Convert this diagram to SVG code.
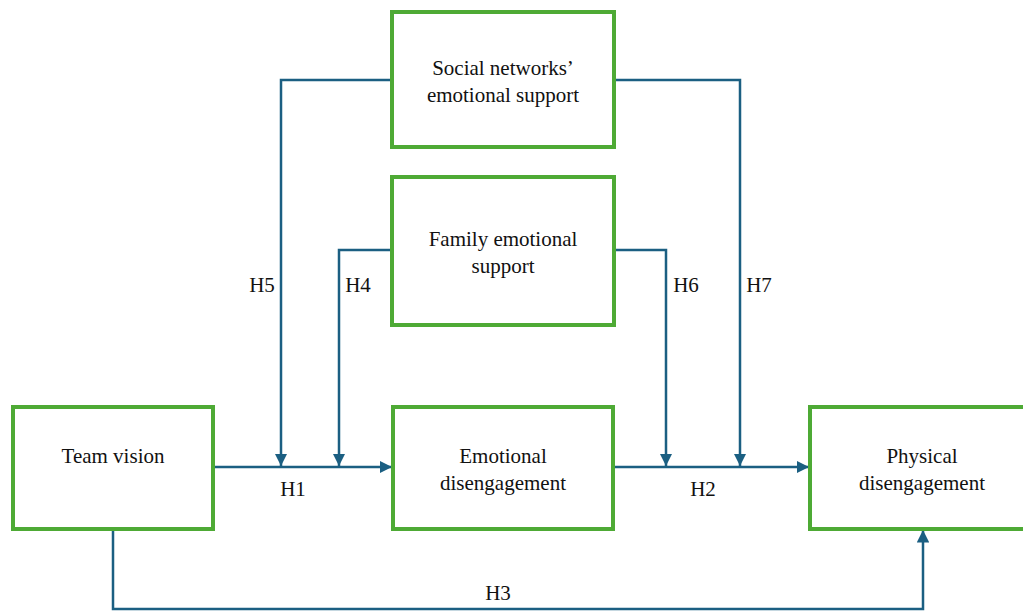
<svg xmlns="http://www.w3.org/2000/svg" width="1023" height="611" viewBox="0 0 1023 611">
<defs>
<style>
.box{fill:#fff;stroke:#4eaa35;stroke-width:4}
.t{font-family:"Liberation Serif","Times New Roman",Times,"Noto Serif","DejaVu Serif",serif;font-size:21px;fill:#111;text-anchor:middle}
.c{fill:none;stroke:#1b5f82;stroke-width:2.5}
</style>
<marker id="a" viewBox="0 0 10 10" refX="10" refY="5" markerWidth="5" markerHeight="5" orient="auto" markerUnits="strokeWidth">
<path d="M0,0 L10,5 L0,10 z" fill="#1b5f82"/>
</marker>
</defs>
<rect width="1023" height="611" fill="#fff"/>
<g id="connectors">
<path class="c" d="M213,467 H392" marker-end="url(#a)"/>
<path class="c" d="M613,467 H809" marker-end="url(#a)"/>
<path class="c" d="M390,80 H281 V466" marker-end="url(#a)"/>
<path class="c" d="M390,250 H339 V466" marker-end="url(#a)"/>
<path class="c" d="M616,250 H666 V466" marker-end="url(#a)"/>
<path class="c" d="M616,80 H740 V466" marker-end="url(#a)"/>
<path class="c" d="M113,531 V609 H923 V530" marker-end="url(#a)"/>
<text class="t" x="262" y="292">H5</text>
<text class="t" x="358" y="292">H4</text>
<text class="t" x="686" y="292">H6</text>
<text class="t" x="759" y="292">H7</text>
<text class="t" x="293" y="496">H1</text>
<text class="t" x="703" y="496">H2</text>
<text class="t" x="498" y="600">H3</text>
</g>
<g id="social">
<rect class="box" x="392" y="12" width="222" height="135"/>
<text class="t" x="503" y="75">Social networks’</text>
<text class="t" x="503" y="102">emotional support</text>
</g>
<g id="family">
<rect class="box" x="392" y="177" width="222" height="148"/>
<text class="t" x="503" y="246">Family emotional</text>
<text class="t" x="503" y="273">support</text>
</g>
<g id="team">
<rect class="box" x="13" y="407" width="200" height="122"/>
<text class="t" x="113" y="463">Team vision</text>
</g>
<g id="emotional">
<rect class="box" x="393" y="407" width="220" height="122"/>
<text class="t" x="503" y="463">Emotional</text>
<text class="t" x="503" y="490">disengagement</text>
</g>
<g id="physical">
<rect class="box" x="810" y="407" width="220" height="122"/>
<text class="t" x="922" y="463">Physical</text>
<text class="t" x="922" y="490">disengagement</text>
</g>
</svg>
